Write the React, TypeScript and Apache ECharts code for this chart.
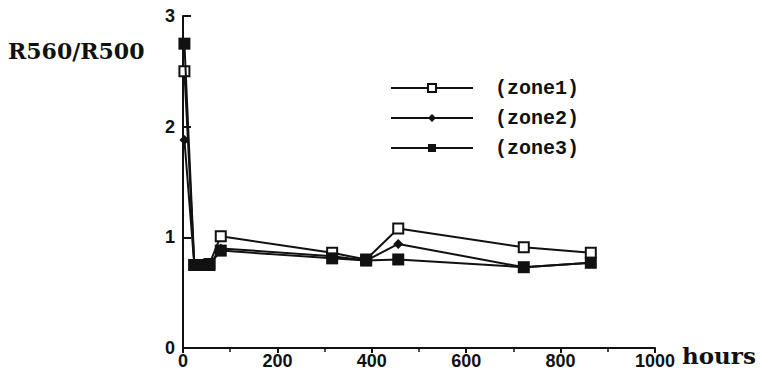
import React, { useEffect, useRef } from "react";
import * as echarts from "echarts";

const hours = [3, 24, 40, 56, 80, 316, 388, 456, 722, 864];
const zone1 = [2.5, 0.75, 0.75, 0.76, 1.01, 0.86, 0.8, 1.08, 0.91, 0.86];
const zone2 = [1.88, 0.75, 0.75, 0.75, 0.9, 0.83, 0.79, 0.94, 0.73, 0.77];
const zone3 = [2.75, 0.75, 0.75, 0.75, 0.88, 0.81, 0.79, 0.8, 0.73, 0.77];
const seriesNames = ["(zone1)", "(zone2)", "(zone3)"];
const yTitle = "R560/R500";
const xTitle = "hours";

const pairs = (ys: number[]) => hours.map((h, i) => [h, ys[i]]);

export default function App() {
  const ref = useRef<HTMLDivElement>(null);
  useEffect(() => {
    document.body.style.margin = "0";
    const chart = echarts.init(ref.current!, undefined, { renderer: "svg" });
    const lineStyle = { color: "#111", width: 2 };
    chart.setOption({
      animation: false,
      backgroundColor: "#fff",
      grid: { left: 183, right: 105, top: 16, bottom: 42 },
      xAxis: {
        type: "value",
        min: 0,
        max: 1000,
        interval: 200,
        axisLine: { lineStyle: { color: "#111", width: 2 } },
        axisTick: { show: true, inside: false, length: 5, lineStyle: { color: "#111", width: 2 } },
        minorTick: { show: true, splitNumber: 2, length: 4, lineStyle: { color: "#111", width: 1.5 } },
        splitLine: { show: false },
        axisLabel: {
          color: "#111",
          fontFamily: "Liberation Sans",
          fontWeight: "bold",
          fontSize: 18,
          margin: 4,
          formatter: (v: number) => String(v),
        },
      },
      yAxis: {
        type: "value",
        min: 0,
        max: 3,
        interval: 1,
        axisLine: { show: true, lineStyle: { color: "#111", width: 2 } },
        axisTick: { show: true, inside: true, length: 8, lineStyle: { color: "#111", width: 2 } },
        splitLine: { show: false },
        axisLabel: {
          color: "#111",
          fontFamily: "Liberation Sans",
          fontWeight: "bold",
          fontSize: 18,
          margin: 8,
        },
      },
      legend: {
        orient: "vertical",
        left: 385,
        top: 73,
        itemWidth: 82,
        itemHeight: 10,
        itemGap: 10,
        data: seriesNames,
        textStyle: {
          color: "#111",
          fontFamily: "Liberation Mono",
          fontSize: 20,
          fontWeight: "bold",
          padding: [0, 0, 0, 17],
        },
      },
      graphic: [
        {
          type: "text",
          left: 8,
          top: 40,
          style: {
            text: yTitle,
            fill: "#111",
            font: "bold 22px 'DejaVu Serif'",
          },
        },
        {
          type: "text",
          left: 682,
          top: 344,
          style: {
            text: xTitle,
            fill: "#111",
            font: "bold 23px 'DejaVu Serif'",
          },
        },
      ],
      series: [
        {
          name: seriesNames[0],
          type: "line",
          data: pairs(zone1),
          symbol: "rect",
          symbolSize: 10,
          itemStyle: { color: "#fff", borderColor: "#111", borderWidth: 2 },
          lineStyle,
          z: 3,
        },
        {
          name: seriesNames[1],
          type: "line",
          data: pairs(zone2),
          symbol: "diamond",
          symbolSize: 10,
          itemStyle: { color: "#111", borderColor: "#111", borderWidth: 0 },
          lineStyle,
          z: 2,
        },
        {
          name: seriesNames[2],
          type: "line",
          data: pairs(zone3),
          symbol: "rect",
          symbolSize: 12,
          itemStyle: { color: "#111", borderColor: "#111", borderWidth: 0 },
          lineStyle,
          z: 4,
        },
      ],
    });
    return () => chart.dispose();
  }, []);
  return (
    <div
      ref={ref}
      style={{ position: "absolute", left: 0, top: 0, width: 760, height: 390 }}
    />
  );
}
